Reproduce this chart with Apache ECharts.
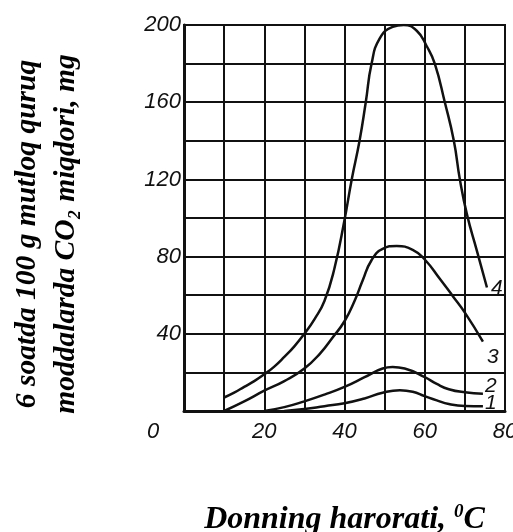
<!DOCTYPE html>
<html><head><meta charset="utf-8">
<script src="https://cdn.jsdelivr.net/npm/echarts@6/dist/echarts.min.js"></script>
<style>html,body{margin:0;padding:0;background:#fff}#c{width:513px;height:532px}</style>
</head><body><div id="c"></div>
<script>
const xTicks = [0, 20, 40, 60, 80];
const yTicks = [40, 80, 120, 160, 200];
const curveNames = ['1', '2', '3', '4'];
const temp1 = [25, 30, 35, 40, 45, 49.5, 53.8, 57, 60, 63, 66, 70, 74.5];
const co2_1 = [0, 1, 2.5, 4, 6.5, 9.5, 10.8, 10, 7.7, 5.5, 3.6, 2.6, 2.5];
const temp2 = [20, 25, 30, 35, 40, 45, 49.5, 52, 55, 60, 63, 66, 70, 74.5];
const co2_2 = [0, 2, 5, 8.5, 12.5, 17.5, 22, 22.8, 22, 17.5, 14, 11.3, 9.7, 9];
const temp3 = [10, 15, 20, 25, 30, 34, 37, 40, 42.5, 44.5, 46.7, 49.5, 53, 57, 60, 63.75, 67, 70, 74.5];
const co2_3 = [0, 5, 10.5, 15.5, 22, 30, 38, 46.5, 57, 67.5, 78, 84, 85.5, 83.5, 78.5, 68.5, 59.5, 51, 36];
const temp4 = [10, 12.5, 15, 17.5, 20, 22.5, 25, 27.5, 30, 32.5, 35, 37.5, 40, 41.8, 43.75, 45.3, 46.75, 48.75, 52, 54.75, 58, 60.5, 62.5, 65, 67.25, 68.75, 70.5, 73, 75.5];
const co2_4 = [7, 9.5, 12.5, 15.5, 19, 23, 28, 33.5, 40, 47.5, 57, 74, 99, 120, 140, 160, 180, 193, 199, 200, 197, 189, 180, 160, 140, 120, 102, 83, 64];

const temps = [temp1, temp2, temp3, temp4];
const vals = [co2_1, co2_2, co2_3, co2_4];
const labelOffsets = [[-6, -3], [-6, -7], [-4, 16], [-4, 1]];

const chart = echarts.init(document.getElementById('c'), null, {renderer: 'canvas'});
const tickFont = {fontFamily: 'Liberation Sans', fontStyle: 'italic', fontSize: 22, color: '#111'};
const titleFont = {fontFamily: 'Liberation Serif', fontWeight: 'bold', fontStyle: 'italic', color: '#000'};
chart.setOption({
  animation: false,
  backgroundColor: '#fff',
  grid: {left: 184, right: 8, top: 25, bottom: 121, show: true, borderColor: '#111', borderWidth: 2, outerBoundsMode: 'none', containLabel: false},
  xAxis: {
    type: 'value', min: 0, max: 80, interval: 10,
    name: '{t|Donning harorati, }{s|0}{t|C}', nameLocation: 'middle', nameGap: 92,
    nameTextStyle: {
      rich: {
        t: Object.assign({}, titleFont, {fontSize: 32, lineHeight: 34}),
        s: Object.assign({}, titleFont, {fontSize: 19, lineHeight: 34, verticalAlign: 'top'})
      }
    },
    axisLine: {show: true, lineStyle: {color: '#111', width: 3}},
    axisTick: {show: false},
    splitLine: {show: true, lineStyle: {color: '#111', width: 2}},
    axisLabel: Object.assign({}, tickFont, {
      margin: 10,
      formatter: v => xTicks.includes(v) ? (v === 0 ? '{z|0}' : String(v)) : '',
      rich: {z: Object.assign({}, tickFont, {padding: [0, 62, 0, 0]})}
    })
  },
  yAxis: {
    type: 'value', min: 0, max: 200, interval: 20,
    name: '6 soatda 100 g mutloq quruq\nmoddalarda CO₂ miqdori, mg', nameLocation: 'middle', nameGap: 98, nameRotate: 90,
    nameTextStyle: Object.assign({}, titleFont, {fontSize: 29.5, lineHeight: 39, padding: [0, 32, 0, 0]}),
    axisLine: {show: true, lineStyle: {color: '#111', width: 3}},
    axisTick: {show: false},
    splitLine: {show: true, lineStyle: {color: '#111', width: 2}},
    axisLabel: Object.assign({}, tickFont, {margin: 3, formatter: v => yTicks.includes(v) ? String(v) : ''})
  },
  series: curveNames.map((n, i) => ({
    name: n, type: 'line', smooth: 0.5, showSymbol: false, symbol: 'none',
    lineStyle: {color: '#111', width: 2.5},
    data: temps[i].map((t, j) => [t, vals[i][j]]),
    endLabel: {show: true, formatter: n, offset: labelOffsets[i], fontFamily: 'Liberation Sans', fontStyle: 'italic', fontSize: 21, color: '#111'}
  }))
});
</script></body></html>
